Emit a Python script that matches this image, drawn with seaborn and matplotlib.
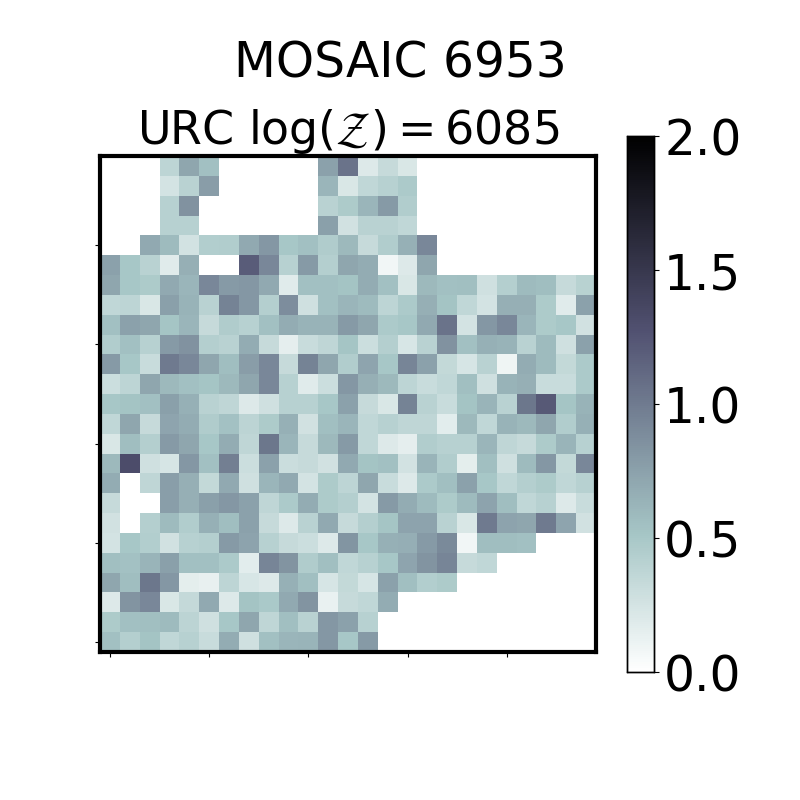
import numpy as np
import seaborn as sns
import matplotlib.pyplot as plt

n = np.nan

# map rows, top of the picture first
rows = [
    [n, n, n, .38, .72, .55, n, n, n, n, n, .75, 1.05, .2, .33, .22, n, n, n, n, n, n, n, n, n],
    [n, n, n, .25, .4, .78, n, n, n, n, n, .62, .22, .36, .42, .48, n, n, n, n, n, n, n, n, n],
    [n, n, n, .42, .85, n, n, n, n, n, n, .4, .47, .62, .8, .45, n, n, n, n, n, n, n, n, n],
    [n, n, n, .42, .42, n, n, n, n, n, n, .76, .27, .4, .4, .36, n, n, n, n, n, n, n, n, n],
    [n, n, .7, .58, .26, .44, .45, .7, .82, .5, .55, .46, .6, .33, .45, .65, .92, n, n, n, n, n, n, n, n],
    [.75, .5, .4, .18, .66, n, n, 1.2, .92, .42, .8, .43, .72, .68, .08, .2, .72, n, n, n, n, n, n, n, n],
    [.72, .5, .47, .7, .62, .92, .8, .82, .7, .18, .55, .55, .53, .68, .55, .22, .6, .55, .56, .28, .43, .58, .57, .33, .41],
    [.36, .38, .22, .76, .64, .4, .95, .82, .43, .88, .28, .55, .62, .58, .38, .48, .66, .53, .36, .25, .66, .66, .47, .18, .75],
    [.55, .75, .72, .52, .62, .33, .46, .42, .55, .68, .64, .64, .8, .72, .48, .5, .7, 1.05, .25, .82, .92, .62, .47, .5, .27],
    [.45, .55, .42, .8, .85, .43, .4, .68, .33, .15, .32, .37, .52, .3, .43, .23, .4, .85, .55, .65, .64, .4, .58, .28, .75],
    [.8, .5, .32, 1.0, .92, .72, .57, .78, .92, .33, .95, .72, .45, .73, .5, .93, .75, .35, .24, .4, .1, .68, .58, .35, .48],
    [.3, .38, .72, .6, .55, .52, .6, .72, .92, .42, .18, .3, .82, .66, .6, .38, .32, .36, .56, .28, .64, .66, .32, .32, .48],
    [.5, .53, .55, .76, .65, .4, .37, .2, .28, .42, .42, .5, .75, .33, .22, .95, .4, .32, .53, .63, .4, 1.03, 1.22, .52, .64],
    [.36, .72, .33, .73, .68, .46, .54, .39, .47, .65, .27, .56, .62, .36, .42, .37, .37, .17, .6, .36, .64, .6, .72, .45, .65],
    [.22, .57, .43, .8, .72, .5, .68, .37, 1.03, .62, .33, .6, .8, .36, .2, .15, .45, .42, .42, .62, .37, .33, .47, .63, .42],
    [.6, 1.32, .28, .24, .82, .55, .97, .3, .75, .31, .33, .27, .7, .53, .55, .26, .63, .45, .16, .56, .28, .58, .82, .35, .92],
    [.68, n, .37, .77, .66, .35, .7, .28, .62, .7, .25, .47, .38, .72, .32, .2, .48, .56, .75, .5, .36, .43, .47, .36, .42],
    [.33, n, n, .77, .66, .76, .82, .75, .37, .48, .68, .47, .43, .25, .8, .68, .58, .47, .58, .74, .57, .36, .42, .2, .32],
    [.27, n, .43, .58, .45, .65, .57, .75, .33, .2, .4, .7, .33, .43, .52, .74, .74, .4, .22, 1.0, .74, .72, 1.0, .73, .27],
    [.25, .5, .44, .27, .42, .43, .8, .74, .42, .33, .3, .2, .83, .5, .65, .67, .8, .9, .08, .57, .57, .55, n, n, n],
    [.56, .54, .63, .76, .55, .55, .48, .17, .93, .84, .46, .56, .36, .42, .5, .73, .84, .93, .33, .36, n, n, n, n, n],
    [.72, .57, 1.03, .82, .16, .14, .38, .23, .2, .65, .56, .24, .35, .24, .75, .56, .44, .47, n, n, n, n, n, n, n],
    [.2, .84, .92, .22, .34, .7, .2, .53, .49, .7, .84, .13, .33, .36, .68, n, n, n, n, n, n, n, n, n, n],
    [.47, .55, .56, .58, .39, .28, .5, .72, .37, .56, .4, .82, .75, .42, n, n, n, n, n, n, n, n, n, n, n],
    [.55, .43, .53, .36, .42, .32, .68, .28, .55, .62, .63, .82, .5, .8, n, n, n, n, n, n, n, n, n, n, n],
]
xtick_cells = [0, 5, 10, 15, 20]
ytick_cells = [24, 19, 14, 9, 4]
cbar_ticks = [0.0, 0.5, 1.0, 1.5, 2.0]

data = np.array(rows)

fig = plt.figure(figsize=(8, 8), dpi=100)
ax = fig.add_axes([0.125, 0.185, 0.62, 0.62])
cax = fig.add_axes([0.784, 0.16, 0.034, 0.67])

sns.heatmap(data, ax=ax, cbar_ax=cax, cmap='bone_r', vmin=0, vmax=2, square=True,
            xticklabels=False, yticklabels=False)

ax.set_xticks([c + 0.5 for c in xtick_cells])
ax.set_yticks([c + 0.5 for c in ytick_cells])
ax.set_xticklabels([])
ax.set_yticklabels([])
ax.tick_params(length=3.5, width=0.8)
for s in ax.spines.values():
    s.set_visible(True)
    s.set_linewidth(3)
    s.set_color('black')

ax.set_title(r'URC $\log(\mathcal{Z}) = 6085$', fontsize=33, pad=7)
fig.suptitle('MOSAIC 6953', fontsize=35, x=0.5, y=0.95)

cax.set_yticks(cbar_ticks)
cax.tick_params(labelsize=35, length=3.5, width=0.8)
for s in cax.spines.values():
    s.set_visible(True)
    s.set_linewidth(1)

fig.savefig('out.png', dpi=100)
